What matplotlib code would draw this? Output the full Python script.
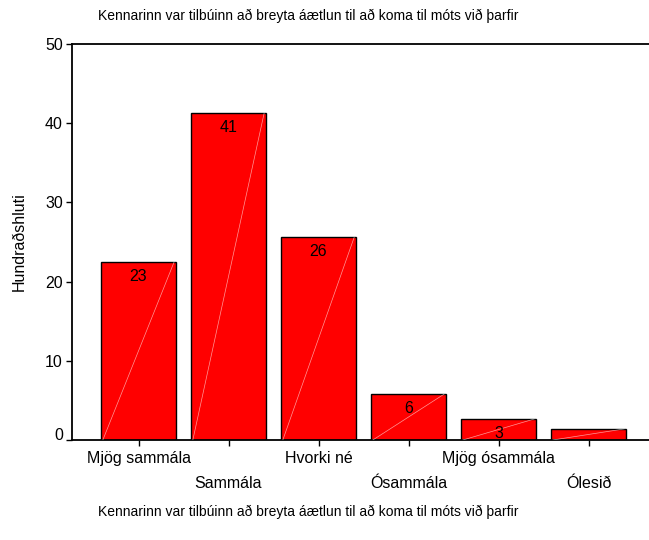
import matplotlib
matplotlib.use("Agg")
import matplotlib.pyplot as plt
import matplotlib.transforms as mtransforms

plt.rcParams['font.family'] = ['Liberation Sans', 'DejaVu Sans']

# svarflokkar og hlutfall (%)
categories = ["Mjög sammála", "Sammála", "Hvorki né", "Ósammála", "Mjög ósammála", "Ólesið"]
percent = [22.5, 41.3, 25.6, 5.8, 2.65, 1.4]
bar_labels = ["23", "41", "26", "6", "3", ""]
title = "Kennarinn var tilbúinn að breyta áætlun til að koma til móts við þarfir"

fig = plt.figure(figsize=(6.49, 5.40), dpi=100)
ax = fig.add_axes([72 / 649, 100 / 540, 1 - 72 / 649, 396 / 540])

xs = list(range(len(categories)))
w = 0.833
ax.bar(xs, percent, width=w, color="#ff0000", edgecolor="black", linewidth=1.0, zorder=2)

# faint diagonal lines inside the bars
for x, v in zip(xs, percent):
    ax.plot([x - w / 2 + 0.02, x + w / 2 - 0.02], [0, v], color="white", lw=0.5, alpha=0.6, zorder=3)

for x, v, s in zip(xs, percent, bar_labels):
    if s:
        ax.text(x, v - 0.9, s, ha="center", va="top", fontsize=11.5, zorder=4)

ax.set_xlim(-0.739, 5.672)
ax.set_ylim(0, 50)
ax.set_yticks([0, 10, 20, 30, 40, 50])
ax.set_xticks(xs)
ax.set_xticklabels([])
for i, c in enumerate(categories):
    yoff = -0.0455 if i % 2 == 0 else -0.1086
    ax.text(i, yoff, c, transform=ax.get_xaxis_transform(), ha="center", va="center", fontsize=11.5)

ax.tick_params(axis="both", direction="out", length=4, width=1, labelsize=11.5, color="black", pad=2.5)
ax.spines["right"].set_visible(False)
for s in ["left", "bottom", "top"]:
    ax.spines[s].set_linewidth(1.3)

# the zero label sits a little above its tick
fig.canvas.draw()
zero_lab = ax.get_yticklabels()[0]
zero_lab.set_transform(zero_lab.get_transform() + mtransforms.ScaledTranslation(0, 6 / 100, fig.dpi_scale_trans))

ax.set_ylabel("Hundraðshluti", fontsize=11.5, labelpad=13)
fig.text(98 / 649, 1 - 16 / 540, title, ha="left", va="center", fontsize=10)
fig.text(98 / 649, 1 - 512 / 540, title, ha="left", va="center", fontsize=10)

fig.savefig("out.png", dpi=100)
